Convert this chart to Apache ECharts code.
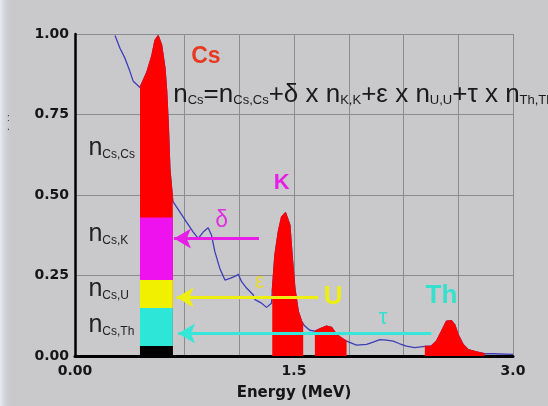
<!DOCTYPE html>
<html><head><meta charset="utf-8">
<script src="https://cdn.jsdelivr.net/npm/echarts@6/dist/echarts.min.js"></script>
<style>html,body{margin:0;padding:0;background:#c9c9cc}#c{width:548px;height:406px}</style>
</head><body><div id="c"></div>
<script>
// ---- data ----
const spectrumE = [0.274,0.308,0.342,0.376,0.399,0.445,0.491,0.525,0.548,0.570,0.593,0.616,0.628,0.639,0.650,0.670,
  0.719,0.764,0.810,0.844,0.878,0.912,0.935,0.958,0.992,1.027,1.061,1.095,1.118,1.141,1.175,1.220,1.232,1.278,1.312,1.346,
  1.351,1.369,1.392,1.415,1.442,1.472,1.487,1.506,1.529,1.552,1.563,1.574,1.608,
  1.643,1.689,1.723,1.757,1.791,1.826,1.860,1.871,1.928,1.997,2.042,2.088,2.133,2.179,2.224,2.270,2.327,
  2.396,2.441,2.475,2.510,2.544,2.578,2.601,2.624,2.658,2.692,2.749,2.806,2.863,3.000];
const spectrumV = [0.995,0.956,0.925,0.884,0.853,0.834,0.880,0.930,0.980,0.995,0.966,0.894,0.822,0.719,0.580,0.480,
  0.447,0.416,0.385,0.365,0.385,0.398,0.375,0.324,0.272,0.236,0.241,0.247,0.254,0.231,0.211,0.190,0.175,0.164,0.151,0.164,
  0.200,0.313,0.385,0.432,0.445,0.406,0.313,0.211,0.139,0.108,0.100,0.093,0.080,
  0.077,0.087,0.093,0.089,0.067,0.056,0.046,0.044,0.034,0.036,0.043,0.051,0.049,0.046,0.038,0.031,0.026,
  0.030,0.031,0.046,0.077,0.108,0.110,0.097,0.067,0.036,0.020,0.013,0.007,0.007,0.005];
const windowStart = [0.445, 1.351, 1.643, 2.396];
const windowEnd   = [0.670, 1.563, 1.860, 2.806];
const stackLevels = [0, 0.031, 0.149, 0.236, 0.430];   // black, n Cs,Th, n Cs,U, n Cs,K
const arrowLevel = [0.365, 0.182, 0.070];             // delta, epsilon, tau arrows
const arrowFrom  = [1.260, 1.665, 2.441];
const arrowTo    = [0.678, 0.696, 0.707];
const xTickLabels = {'0': '0.00', '1.5': '1.5', '3': '3.0'};

// ---- styles ----
const stackColors = ['#000000', '#2ee6d8', '#f0f000', '#ee12ee'];
const arrowColors = ['#e81ee8', '#eeee10', '#36e6d8'];
const SANS = "'Liberation Sans', Arial, sans-serif";
const AXF = "'DejaVu Sans', sans-serif";

const pts = spectrumE.map((e, i) => [e, spectrumV[i]]);
const series = [{
  type: 'line', data: pts, showSymbol: false, z: 2, silent: true,
  lineStyle: {color: '#3d3db8', width: 1.3}
}];
windowStart.forEach((ws, i) => {
  series.push({
    type: 'line', z: 3, silent: true, showSymbol: false,
    data: pts.filter(p => p[0] >= ws - 1e-9 && p[0] <= windowEnd[i] + 1e-9),
    lineStyle: {color: '#ff0000', width: 1.2},
    areaStyle: {color: '#ff0000', opacity: 1}
  });
});
series.push({
  type: 'line', data: [], z: 5,
  markArea: {
    silent: true, z: 5,
    data: stackColors.map((c, i) => [
      {coord: [windowStart[0], stackLevels[i]], itemStyle: {color: c, opacity: 1, borderWidth: 0}},
      {coord: [windowEnd[0], stackLevels[i + 1]]}
    ])
  },
  markLine: {
    silent: true, z: 6, symbol: ['none', 'arrow'], symbolSize: [15, 17],
    label: {show: false},
    data: arrowLevel.map((lv, i) => [
      {coord: [arrowFrom[i], lv], lineStyle: {color: arrowColors[i], width: 3, type: 'solid'}, itemStyle: {color: arrowColors[i]}},
      {coord: [arrowTo[i], lv]}
    ])
  }
});

const gridGray = '#8c8c8c';
const option = {
  animation: false,
  backgroundColor: '#c9c9cc',
  grid: {left: 75, right: 35, top: 34, bottom: 48, containLabel: false},
  xAxis: {
    type: 'value', min: 0, max: 3, interval: 0.375,
    name: 'Energy (MeV)', nameLocation: 'middle', nameGap: 30,
    nameTextStyle: {fontFamily: AXF, fontWeight: 'bold', fontSize: 15, color: '#151515'},
    axisLine: {show: true, lineStyle: {color: '#000', width: 3}},
    axisTick: {show: false},
    axisLabel: {
      margin: 8, fontFamily: AXF, fontWeight: 'bold', fontSize: 14, color: '#151515',
      formatter: v => xTickLabels[String(v)] || ''
    },
    splitLine: {show: true, lineStyle: {width: 1,
      color: [gridGray, 'rgba(0,0,0,0)', gridGray, gridGray, gridGray, gridGray, gridGray, gridGray, gridGray]}}
  },
  yAxis: {
    type: 'value', min: 0, max: 1, interval: 0.25,
    axisLine: {show: true, lineStyle: {color: '#000', width: 2.5}},
    axisTick: {show: false},
    axisLabel: {margin: 6, fontFamily: AXF, fontWeight: 'bold', fontSize: 14, color: '#151515',
      formatter: v => v.toFixed(2)},
    splitLine: {show: true, lineStyle: {color: gridGray, width: 1}}
  },
  series: series
};

const chart = echarts.init(document.getElementById('c'), null, {renderer: 'canvas'});
chart.setOption(option);

// ---- annotations placed in data coordinates ----
const big = (fs) => ({fontSize: fs, fontFamily: SANS, verticalAlign: 'bottom', lineHeight: fs + 1});
const notes = [
  {at: [0.673, 0.772], align: 'left', va: 'bottom', color: '#1a1a1a',
   text: '{b|n}{s|Cs}{b|=n}{s|Cs,Cs}{b|+δ x n}{s|K,K}{b|+ε x n}{s|U,U}{b|+τ x n}{s|Th,Th}',
   rich: {b: big(26), s: big(13)}},
  {at: [0.092, 0.606], align: 'left', va: 'bottom', color: '#222', text: '{b|n}{s|Cs,Cs}', rich: {b: big(25), s: big(12)}},
  {at: [0.092, 0.339], align: 'left', va: 'bottom', color: '#222', text: '{b|n}{s|Cs,K}', rich: {b: big(25), s: big(12)}},
  {at: [0.092, 0.168], align: 'left', va: 'bottom', color: '#222', text: '{b|n}{s|Cs,U}', rich: {b: big(25), s: big(12)}},
  {at: [0.092, 0.057], align: 'left', va: 'bottom', color: '#222', text: '{b|n}{s|Cs,Th}', rich: {b: big(25), s: big(12)}},
  {at: [0.897, 0.931], align: 'center', va: 'middle', color: '#e8381f', text: 'Cs', font: 'bold 23px ' + SANS},
  {at: [1.415, 0.537], align: 'center', va: 'middle', color: '#e81ee8', text: 'K', font: 'bold 22px ' + SANS},
  {at: [1.768, 0.185], align: 'center', va: 'middle', color: '#eeee10', text: 'U', font: 'bold 26px ' + SANS},
  {at: [2.510, 0.187], align: 'center', va: 'middle', color: '#36e0cc', text: 'Th', font: 'bold 26px ' + SANS},
  {at: [1.004, 0.420], align: 'center', va: 'middle', color: '#e030e0', text: 'δ', font: '23px ' + SANS},
  {at: [1.264, 0.229], align: 'center', va: 'middle', color: '#e6d838', text: 'ε', font: '22px ' + SANS},
  {at: [2.110, 0.119], align: 'center', va: 'middle', color: '#36e0d0', text: 'τ', font: '22px ' + SANS}
];
const graphics = [{
  type: 'rect', shape: {x: 0, y: 0, width: 12, height: 406}, z: -1, silent: true,
  style: {fill: new echarts.graphic.LinearGradient(0, 0, 1, 0, [
    {offset: 0, color: 'rgba(228,236,246,1)'}, {offset: 1, color: 'rgba(201,201,204,0)'}])}
}, {
  type: 'text', x: 7, y: 114, silent: true, style: {text: ':\n.', fill: '#333', font: '10px ' + SANS, lineHeight: 9}
}];
notes.forEach(n => {
  const p = chart.convertToPixel({gridIndex: 0}, n.at);
  const st = {text: n.text, fill: n.color, align: n.align, verticalAlign: n.va};
  if (n.rich) st.rich = n.rich; else st.font = n.font;
  graphics.push({type: 'text', x: p[0], y: p[1], z: 100, silent: true, style: st});
});
chart.setOption({graphic: graphics});
</script>
</body></html>
